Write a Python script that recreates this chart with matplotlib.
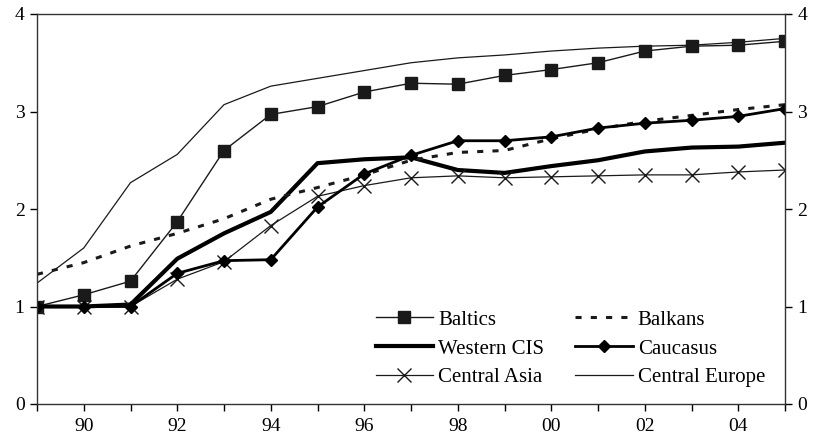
import matplotlib
matplotlib.use("Agg")
import matplotlib.pyplot as plt
import numpy as np

years = list(range(1989, 2006))
year_labels = ["89", "90", "91", "92", "93", "94", "95", "96", "97", "98", "99",
               "00", "01", "02", "03", "04", "05"]

baltics = [1.00, 1.12, 1.26, 1.87, 2.60, 2.97, 3.05, 3.20, 3.29, 3.28, 3.37, 3.43, 3.50, 3.62, 3.67, 3.68, 3.72]
balkans = [1.33, 1.45, 1.62, 1.75, 1.90, 2.10, 2.22, 2.35, 2.50, 2.58, 2.60, 2.72, 2.82, 2.90, 2.96, 3.02, 3.07]
western_cis = [1.00, 1.00, 1.02, 1.49, 1.75, 1.97, 2.47, 2.51, 2.53, 2.40, 2.37, 2.44, 2.50, 2.59, 2.63, 2.64, 2.68]
caucasus = [1.00, 1.00, 1.00, 1.34, 1.47, 1.48, 2.02, 2.36, 2.55, 2.70, 2.70, 2.74, 2.83, 2.88, 2.91, 2.95, 3.03]
central_asia = [1.00, 1.00, 1.00, 1.28, 1.46, 1.83, 2.13, 2.24, 2.32, 2.34, 2.32, 2.33, 2.34, 2.35, 2.35, 2.38, 2.40]
central_europe = [1.24, 1.60, 2.27, 2.56, 3.07, 3.26, 3.34, 3.42, 3.50, 3.55, 3.58, 3.62, 3.65, 3.67, 3.68, 3.71, 3.75]

plt.rcParams['font.family'] = ['Liberation Serif', 'DejaVu Serif']

fig = plt.figure(figsize=(8.13, 4.42), dpi=100)
ax = fig.add_axes([37/813, 1 - 404/442, (785-37)/813, (404-14)/442])

x = np.array(years)
c = '#1a1a1a'
ax.plot(x, baltics, color=c, lw=1.0, marker='s', ms=8, label='Baltics')
ax.plot(x, western_cis, color='black', lw=3.0, label='Western CIS')
ax.plot(x, central_asia, color=c, lw=0.9, marker='x', ms=10, mew=1.0, label='Central Asia')
ax.plot(x, balkans, color=c, lw=2.2, ls=(0, (2, 3)), label='Balkans')
ax.plot(x, caucasus, color='black', lw=2.0, marker='D', ms=6, label='Caucasus')
ax.plot(x, central_europe, color=c, lw=0.9, label='Central Europe')

ax.set_xlim(1989, 2005)
ax.set_ylim(0, 4)
ax.set_xticks(years)
ax.set_xticklabels([lbl if (y % 2 == 0) else '' for lbl, y in zip(year_labels, years)])
ax.set_yticks([0, 1, 2, 3, 4])
ax.tick_params(axis='both', direction='out', length=5, width=1, labelsize=14, colors='black')
ax.tick_params(axis='x', pad=5)
ax.tick_params(axis='y', right=True, labelright=True, pad=4)
for s in ax.spines.values():
    s.set_linewidth(1.0)
    s.set_color('#333333')

leg = ax.legend(ncol=2, loc='lower right', bbox_to_anchor=(0.993, 0.005), frameon=False,
                fontsize=15, handlelength=2.75, handletextpad=0.25, columnspacing=1.5,
                labelspacing=0.45, borderpad=0.2)

fig.savefig('out.png', dpi=100)
